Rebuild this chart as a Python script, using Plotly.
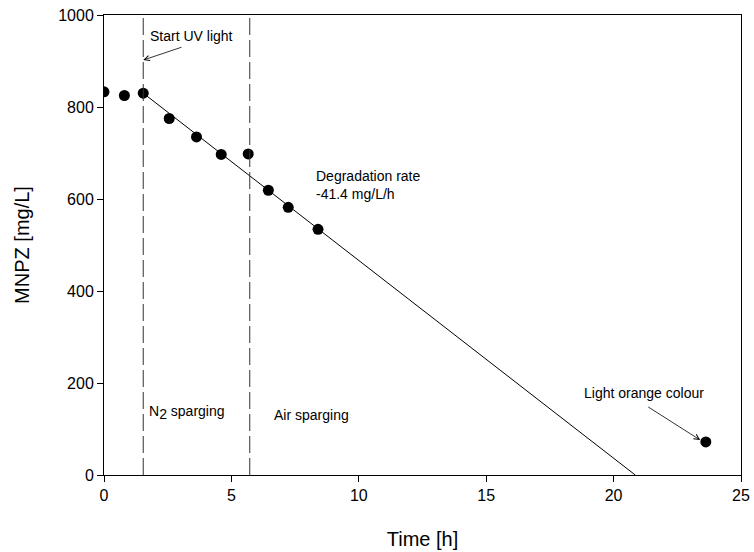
import plotly.graph_objects as go

time_h = [0.0, 0.8, 1.54, 2.56, 3.63, 4.6, 5.66, 6.45, 7.23, 8.4, 23.62]
mnpz = [833, 825, 830, 775, 735, 697, 698, 619, 582, 534, 72]
fit_x = [1.54, 20.85]
fit_y = [830, 0]
phase_x = [1.54, 5.72]
x_ticks = [0, 5, 10, 15, 20, 25]
y_ticks = [0, 200, 400, 600, 800, 1000]

FONT = "Liberation Sans, Arial, sans-serif"
fig = go.Figure()
fig.add_trace(go.Scatter(x=fit_x, y=fit_y, mode="lines",
                         line=dict(color="black", width=1), showlegend=False))
fig.add_trace(go.Scatter(x=time_h, y=mnpz, mode="markers",
                         marker=dict(color="black", size=11), showlegend=False))
for px in phase_x:
    fig.add_shape(type="line", x0=px, x1=px, y0=0, y1=1000, xref="x", yref="y",
                  line=dict(color="#333333", width=1, dash="17px,5px"))

ann_font = dict(family=FONT, size=14, color="black")
fig.add_annotation(x=1.54, y=902, ax=3.1, ay=931, xref="x", yref="y", axref="x", ayref="y",
                   showarrow=True, arrowhead=5, arrowsize=1.3, arrowwidth=0.8,
                   arrowcolor="black", text="")
fig.add_annotation(x=1.73, y=954, text="Start UV light", showarrow=False, xanchor="left",
                   font=ann_font)
fig.add_annotation(x=8.26, y=630, text="Degradation rate<br>-41.4 mg/L/h", showarrow=False,
                   xanchor="left", align="left", font=ann_font)
fig.add_annotation(x=1.69, y=135, text="N<sub><span style='font-size:14px'>2</span></sub> sparging",
                   showarrow=False, xanchor="left", font=ann_font)
fig.add_annotation(x=6.59, y=130, text="Air sparging", showarrow=False,
                   xanchor="left", font=ann_font)
fig.add_annotation(x=23.4, y=76, ax=21.3, ay=150, xref="x", yref="y", axref="x", ayref="y",
                   showarrow=True, arrowhead=5, arrowsize=1.3, arrowwidth=0.8,
                   arrowcolor="black", text="")
fig.add_annotation(x=18.76, y=178, text="Light orange colour", showarrow=False,
                   xanchor="left", font=ann_font)

axis_common = dict(showgrid=False, zeroline=False, showline=True, linecolor="black",
                   linewidth=1, mirror=True, ticks="outside", ticklen=6, tickcolor="black",
                   automargin=False,
                   tickfont=dict(family=FONT, size=16, color="black"))
fig.update_xaxes(range=[0, 25], tickvals=x_ticks, title=dict(text="Time [h]",
                 font=dict(family=FONT, size=20, color="black"), standoff=28), **axis_common)
fig.update_yaxes(range=[0, 1000], tickvals=y_ticks, title=dict(text="MNPZ [mg/L]",
                 font=dict(family=FONT, size=20, color="black"), standoff=23), **axis_common)
fig.update_layout(width=754, height=552, margin=dict(l=104, r=13, t=15, b=77),
                  plot_bgcolor="white", paper_bgcolor="white")
fig.write_html("out.html")
